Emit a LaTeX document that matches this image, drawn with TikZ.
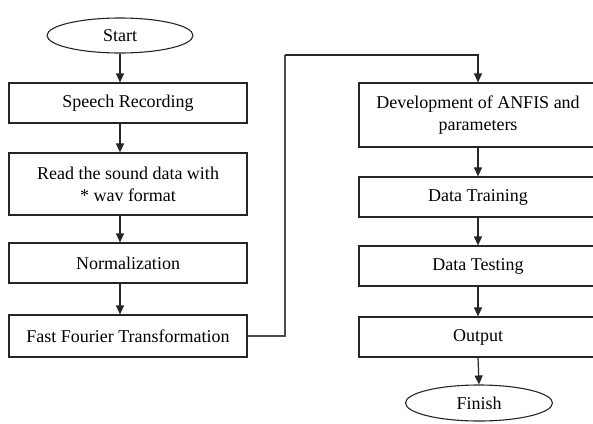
\documentclass[tikz,border=0pt]{standalone}
\usepackage{fontspec}
\setmainfont{Liberation Serif}
\usetikzlibrary{arrows.meta,shapes.geometric}
\begin{document}
\begin{tikzpicture}[x=1pt,y=-1pt,
  every node/.style={font=\rmfamily\fontsize{18}{22}\selectfont, text=black},
  box/.style={draw=black!85, line width=1.2pt, rectangle, minimum width=238pt, inner sep=0pt, align=center},
  term/.style={draw=black!85, line width=1.1pt, ellipse, minimum width=146pt, minimum height=35pt, inner sep=0pt},
  arr/.style={draw=black!85, line width=1.2pt, -{Triangle[length=9pt,width=8pt]}},
  conn/.style={draw=black!70, line width=1.2pt}]
\useasboundingbox (0,0) rectangle (593,423);
\clip (0,0) rectangle (593,423);
\fill[white] (0,0) rectangle (593,423);
% left column
\node[term] (start) at (120,35.5) {Start};
\node[box, minimum height=40pt] (speech) at (128,103) {Speech Recording};
\node[box, minimum height=62pt] (read) at (128,184) {Read the sound data with\\* wav format};
\node[box, minimum height=40pt] (norm) at (128,263) {Normalization};
\node[box, minimum height=42pt] (fft) at (128,336) {Fast Fourier Transformation};
% right column
\node[box, minimum height=64pt] (dev) at (478,115) {Development of ANFIS and\\parameters};
\node[box, minimum height=40pt] (train) at (478,197) {Data Training};
\node[box, minimum height=40pt] (test) at (478,266) {Data Testing};
\node[box, minimum height=40pt] (out) at (478,337) {Output};
\node[term, minimum width=147pt, minimum height=36pt] (finish) at (479,403) {Finish};
% arrows left
\draw[arr] (start.south) -- (start.south |- speech.north);
\draw[arr] (start.south |- speech.south) -- (start.south |- read.north);
\draw[arr] (start.south |- read.south) -- (start.south |- norm.north);
\draw[arr] (start.south |- norm.south) -- (start.south |- fft.north);
% connector
\coordinate (turn) at (285,55);
\draw[conn] (fft.east) -| (turn);
\draw[arr] (turn) -| (dev.north);
% arrows right
\draw[arr] (dev.south) -- (train.north);
\draw[arr] (train.south) -- (test.north);
\draw[arr] (test.south) -- (out.north);
\draw[arr] (out.south) -- (finish.north);
\end{tikzpicture}
\end{document}
